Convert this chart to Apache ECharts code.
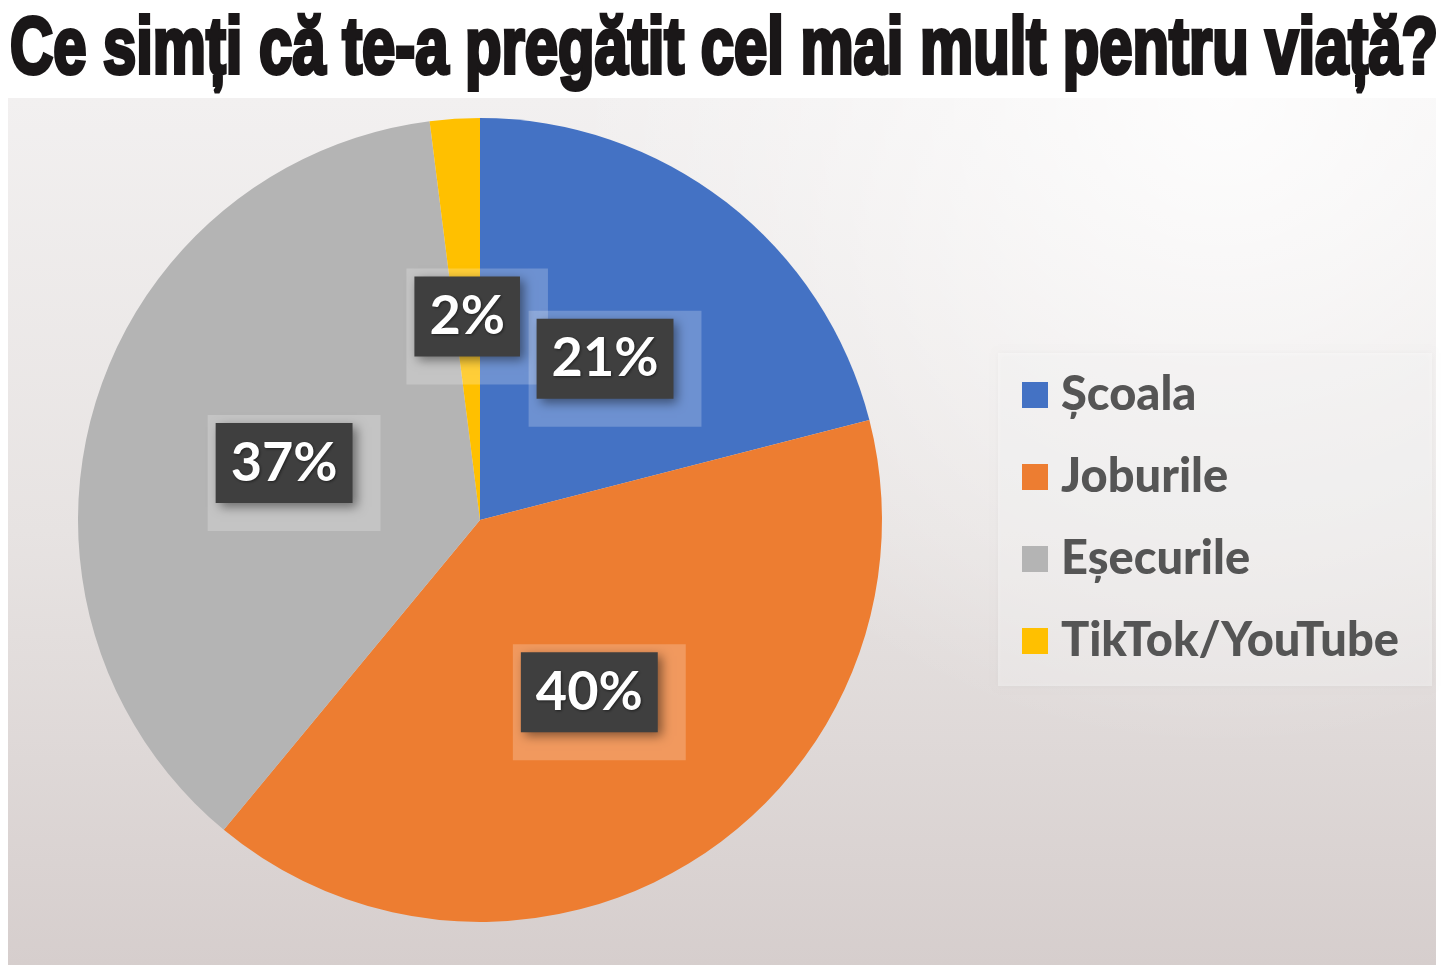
<!DOCTYPE html>
<html lang="ro">
<head>
<meta charset="UTF-8">
<title>Ce simți că te-a pregătit cel mai mult pentru viață?</title>
<script src="https://cdn.jsdelivr.net/npm/echarts@6/dist/echarts.min.js"></script>
<style>
  html, body { margin: 0; padding: 0; background: #fff; }
  #chart { width: 1443px; height: 965px; }
</style>
</head>
<body>
<div id="chart"></div>
<script>
// date
var titlu = 'Ce simți că te-a pregătit cel mai mult pentru viață?';
var categorii = ['Școala', 'Joburile', 'Eșecurile', 'TikTok/YouTube'];
var procente = [21, 40, 37, 2];
var culori = ['#4472C4', '#ED7D31', '#B4B4B4', '#FFC000'];

var chart = echarts.init(document.getElementById('chart'));

// titlul e condensat: il masuram si il strangem pe orizontala
var fontTitlu = 'bold 80px "Liberation Sans"';
var ctx = document.createElement('canvas').getContext('2d');
ctx.font = fontTitlu;
var latimeTitlu = ctx.measureText(titlu).width;
var scalaTitlu = 1428 / latimeTitlu;

var date = categorii.map(function (c, i) {
  return { name: c, value: procente[i], itemStyle: { color: culori[i] } };
});
var dateGoale = categorii.map(function (c, i) {
  return { name: c, value: procente[i] };
});

var eticheta = function (p) { return p.value + '%'; };

option = {
  animation: false,
  graphic: [
    {
      type: 'rect',
      z: -10,
      silent: true,
      shape: { x: 8, y: 98, width: 1428, height: 867 },
      style: {
        fill: {
          type: 'linear', x: 0, y: 0, x2: 0, y2: 1,
          colorStops: [
            { offset: 0, color: '#f2f0f0' },
            { offset: 0.5, color: '#e7e3e2' },
            { offset: 1, color: '#d6cecd' }
          ]
        }
      }
    },
    {
      // lumina din coltul dreapta-sus
      type: 'rect',
      z: -9,
      silent: true,
      shape: { x: 8, y: 98, width: 1428, height: 867 },
      style: {
        fill: {
          type: 'radial', x: 0.85, y: 0, r: 0.75,
          colorStops: [
            { offset: 0, color: 'rgba(255,255,255,0.85)' },
            { offset: 1, color: 'rgba(255,255,255,0)' }
          ]
        }
      }
    },
    {
      type: 'rect',
      z: -5,
      silent: true,
      shape: { x: 998, y: 353, width: 434, height: 333 },
      style: {
        fill: 'rgba(255,255,255,0.35)',
        shadowBlur: 6,
        shadowColor: 'rgba(0,0,0,0.08)'
      }
    },
    {
      type: 'text',
      x: 10,
      y: 51,
      scaleX: scalaTitlu,
      originX: 0,
      silent: true,
      style: {
        text: titlu,
        font: fontTitlu,
        fill: '#1a1718',
        stroke: '#1a1718',
        lineWidth: 4,
        verticalAlign: 'middle',
        align: 'left'
      }
    }
  ],
  legend: {
    orient: 'vertical',
    left: 1022,
    top: 370,
    padding: 0,
    itemWidth: 26,
    itemHeight: 26,
    itemGap: 32,
    icon: 'rect',
    data: categorii,
    textStyle: {
      fontFamily: 'Lato',
      fontWeight: 900,
      fontSize: 47,
      lineHeight: 50,
      color: '#555555',
      padding: [0, 0, 0, 8]
    }
  },
  series: [
    {
      // feliile + halo-ul luminos din spatele etichetelor
      type: 'pie',
      center: [480, 520],
      radius: 402,
      startAngle: 90,
      clockwise: true,
      silent: true,
      avoidLabelOverlap: false,
      labelLayout: { hideOverlap: false },
      data: date,
      label: {
        position: 'inside',
        formatter: eticheta,
        fontFamily: 'Lato',
        fontWeight: 'bold',
        fontSize: 54,
        lineHeight: 54,
        color: 'rgba(0,0,0,0)',
        backgroundColor: 'rgba(255,255,255,0.22)',
        padding: [31, 33],
        offset: [10, 10]
      },
      labelLine: { show: false }
    },
    {
      // etichetele inchise la culoare, deasupra
      type: 'pie',
      center: [480, 520],
      radius: 402,
      startAngle: 90,
      clockwise: true,
      silent: true,
      legendHoverLink: false,
      avoidLabelOverlap: false,
      labelLayout: { hideOverlap: false },
      data: dateGoale,
      itemStyle: { color: 'rgba(0,0,0,0)' },
      label: {
        position: 'inside',
        formatter: eticheta,
        fontFamily: 'Lato',
        fontWeight: 'bold',
        fontSize: 54,
        lineHeight: 54,
        color: '#ffffff',
        textShadowColor: 'rgba(0,0,0,0.5)',
        textShadowBlur: 3,
        textShadowOffsetX: 1,
        textShadowOffsetY: 1,
        backgroundColor: '#3f3f3f',
        padding: [13, 15],
        shadowColor: 'rgba(0,0,0,0.45)',
        shadowBlur: 10,
        shadowOffsetX: 4,
        shadowOffsetY: 4
      },
      labelLine: { show: false }
    }
  ]
};

chart.setOption(option);
</script>
</body>
</html>
